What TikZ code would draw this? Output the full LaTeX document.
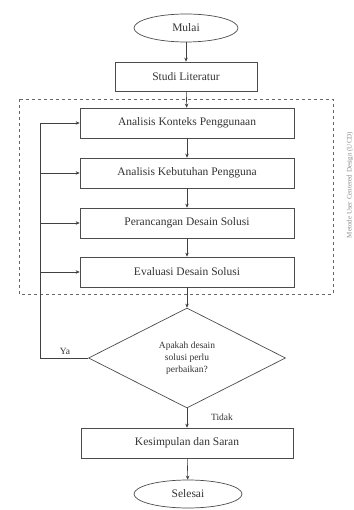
\documentclass[tikz,border=0pt]{standalone}
\usepackage{fontspec}
\setmainfont{Liberation Serif}
\usetikzlibrary{shapes.geometric,arrows.meta}
\begin{document}
\begin{tikzpicture}[x=1pt,y=-1pt,
  line/.style={draw=black!75, line width=0.6pt},
  arr/.style={line, -{Stealth[length=4pt,width=3.5pt]}},
  procbox/.style={draw=black!70, line width=0.7pt, rectangle, minimum width=214pt, minimum height=30pt, inner sep=0pt, font=\fontsize{11.5}{13}\selectfont, text=black!80},
  term/.style={draw=black!70, line width=0.7pt, ellipse, minimum width=104pt, minimum height=28pt, inner sep=0pt, font=\fontsize{11.5}{13}\selectfont, text=black!80},
  decide/.style={draw=black!70, line width=0.7pt, diamond, minimum width=197pt, minimum height=100pt, aspect=2, inner sep=0pt, align=center, font=\fontsize{9.5}{12}\selectfont, text=black!80},
  lbl/.style={font=\fontsize{9.5}{11}\selectfont, text=black!80}
]
\useasboundingbox (0,0) rectangle (353,510);
\fill[white] (0,0) rectangle (353,510);

\draw[black!60, dashed, line width=0.6pt] (19,99) rectangle (333,294);
\node[rotate=90, font=\fontsize{7}{8}\selectfont, text=black!45] (side) at (350,185) {Metode User Centered Design (UCD)};

\node[term] (mulai) at (186,28) {Mulai};
\node[procbox, minimum width=142pt, minimum height=29pt] (studi) at (186,76.5) {Studi Literatur};
\node[procbox] (k1) at (187,123) {Analisis Konteks Penggunaan};
\node[procbox] (k2) at (187,173) {Analisis Kebutuhan Pengguna};
\node[procbox] (k3) at (187,223) {Perancangan Desain Solusi};
\node[procbox] (k4) at (187,272) {Evaluasi Desain Solusi};
\node[decide] (dec) at (187,358) {Apakah desain\\solusi perlu\\perbaikan?};
\node[procbox, minimum width=212pt] (kes) at (187,443) {Kesimpulan dan Saran};
\node[term, minimum width=108pt] (sel) at (188,494) {Selesai};

\draw[arr] (mulai) -- (studi);
\draw[arr] (studi) -- (k1);
\draw[arr] (k1) -- (k2);
\draw[arr] (k2) -- (k3);
\draw[arr] (k3) -- (k4);
\draw[arr] (k4) -- (dec);
\draw[arr] (dec) -- (kes);
\draw[arr] (kes) -- (sel);

\coordinate (fb) at (40,358);
\coordinate (f1) at (40,123);
\coordinate (f2) at (40,173);
\coordinate (f3) at (40,223);
\coordinate (f4) at (40,272);
\draw[line] (dec.west) -- (fb) -- (f1);
\draw[arr] (f1) -- (k1.west);
\draw[arr] (f2) -- (k2.west);
\draw[arr] (f3) -- (k3.west);
\draw[arr] (f4) -- (k4.west);

\node[lbl] (ya) at (65,351) {Ya};
\node[lbl] (tidak) at (222,417) {Tidak};
\end{tikzpicture}
\end{document}
